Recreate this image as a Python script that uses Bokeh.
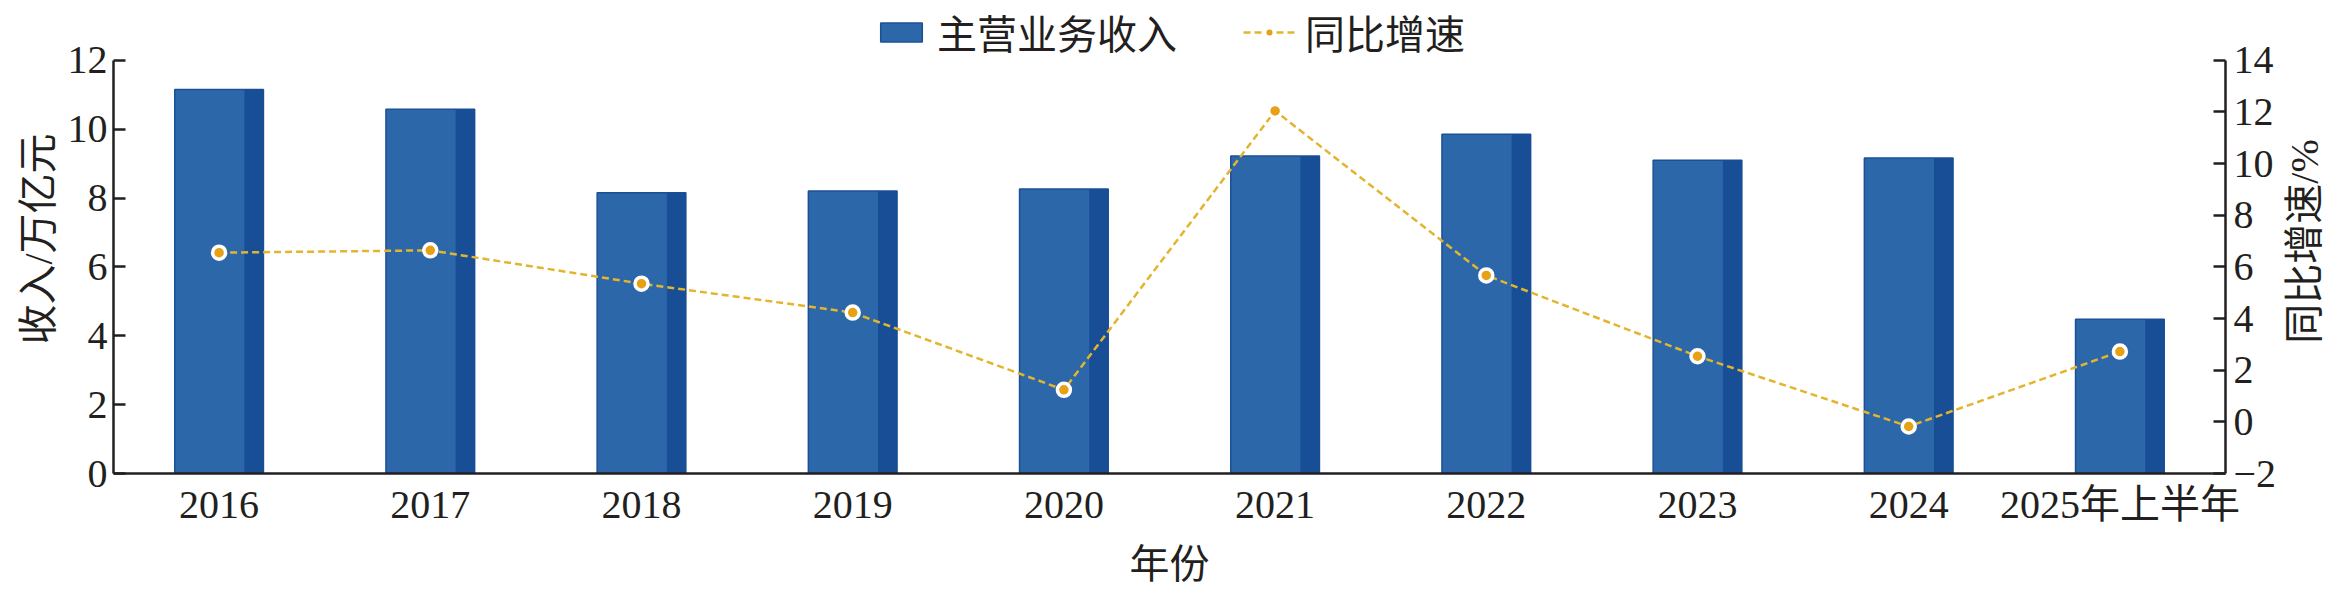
import math
from bokeh.plotting import figure
from bokeh.layouts import row
from bokeh.models import (ColumnDataSource, FactorRange, Range1d, LinearAxis,
                          Legend, LegendItem, FixedTicker, Label)
from bokeh.transform import dodge
from bokeh.embed import file_html
from bokeh.resources import INLINE

# ---- data ----
categories = ["2016", "2017", "2018", "2019", "2020", "2021", "2022", "2023", "2024", "2025年上半年"]
revenue = [11.15, 10.58, 8.15, 8.20, 8.26, 9.22, 9.85, 9.10, 9.16, 4.48]   # 主营业务收入 (万亿元)
growth = [6.55, 6.64, 5.35, 4.23, 1.24, 12.04, 5.67, 2.54, -0.18, 2.72]    # 同比增速 (%)
left_ticks = [0, 2, 4, 6, 8, 10, 12]
right_ticks = [-2, 0, 2, 4, 6, 8, 10, 12, 14]
left_bounds = (0, 12)
right_bounds = (-2, 14)

FONT = "Liberation Serif, Noto Sans CJK SC"
TXT = "#231F20"
FS = "40px"

# frame extends above the axes' top so the legend sits inside it
AXIS_PX = 415.0     # pixel length of the axes
FRAME_PX = 471.0    # pixel height of the frame
ext = FRAME_PX / AXIS_PX
left_range = Range1d(left_bounds[0], left_bounds[0] + (left_bounds[1] - left_bounds[0]) * ext)
right_range = Range1d(right_bounds[0], right_bounds[0] + (right_bounds[1] - right_bounds[0]) * ext)

src = ColumnDataSource(dict(cat=categories, rev=revenue, gr=growth))

p = figure(x_range=FactorRange(*categories, range_padding=0),
           y_range=left_range,
           width=2282, height=589,
           output_backend="svg", toolbar_location=None,
           min_border_left=113, min_border_right=57,
           min_border_top=4, min_border_bottom=114)
p.extra_y_ranges = {"g": right_range}
p.outline_line_color = None
p.grid.visible = False
p.background_fill_color = "white"
p.border_fill_color = "white"

bars = p.vbar(x="cat", top="rev", width=0.42, source=src,
              fill_color="#2C67AA", line_color="#1D4F97", line_width=1.5)
p.vbar(x=dodge("cat", 0.165, range=p.x_range), top="rev", width=0.09, source=src,
       fill_color="#174E96", line_color=None)

ln = p.line(x="cat", y="gr", y_range_name="g", source=src,
            line_color="#E3B52E", line_width=2.5, line_dash="7 4")
pts = p.scatter(x="cat", y="gr", y_range_name="g", source=src,
                size=13, fill_color="#E6A114", line_color="white", line_width=3.5)

def style_axis(ax):
    ax.axis_line_color = TXT
    ax.axis_line_width = 2.5
    ax.major_tick_line_color = TXT
    ax.major_tick_line_width = 2.5
    ax.minor_tick_line_color = None
    ax.major_label_text_font = FONT
    ax.major_label_text_font_size = FS
    ax.major_label_text_color = TXT
    ax.axis_label_text_font = FONT
    ax.axis_label_text_font_size = FS
    ax.axis_label_text_font_style = "normal"
    ax.axis_label_text_color = TXT

xa = p.xaxis[0]
style_axis(xa)
xa.major_tick_in = 0
xa.major_tick_out = 0
xa.major_label_standoff = 8
xa.axis_label = "年份"
xa.axis_label_standoff = 12

ya = p.yaxis[0]
style_axis(ya)
ya.ticker = FixedTicker(ticks=left_ticks)
ya.bounds = left_bounds
ya.major_tick_in = 12
ya.major_tick_out = 0
ya.major_label_standoff = 6
ya.axis_label = "收入/万亿元"
ya.axis_label_standoff = 4

ra = LinearAxis(y_range_name="g", ticker=FixedTicker(ticks=right_ticks))
style_axis(ra)
ra.bounds = right_bounds
ra.major_tick_in = 12
ra.major_tick_out = 0
ra.major_label_standoff = 8
ra.major_label_overrides = {-2: "−2"}
p.add_layout(ra, "right")

legend = Legend(items=[LegendItem(label="主营业务收入", renderers=[bars]),
                       LegendItem(label="同比增速", renderers=[ln, pts])],
                orientation="horizontal", location=(762, 412),
                label_text_font=FONT, label_text_font_size=FS, label_text_color=TXT,
                glyph_width=52, glyph_height=24, spacing=66, label_standoff=10,
                padding=0, margin=0, border_line_color=None, background_fill_alpha=0)
p.add_layout(legend)

# narrow companion figure holding the right axis title (reads bottom-to-top)
q = figure(width=45, height=589, output_backend="svg", toolbar_location=None,
           min_border=0, x_range=Range1d(0, 1), y_range=Range1d(0, 1))
q.axis.visible = False
q.grid.visible = False
q.outline_line_color = None
q.background_fill_color = "white"
q.border_fill_color = "white"
q.add_layout(Label(x=22, y=232, x_units="screen", y_units="screen",
                   text="同比增速/%", angle=math.pi / 2,
                   text_align="center", text_baseline="middle",
                   text_font=FONT, text_font_size=FS, text_color=TXT))

layout = row(p, q, spacing=0)
open("out.html", "w").write(file_html(layout, INLINE))
